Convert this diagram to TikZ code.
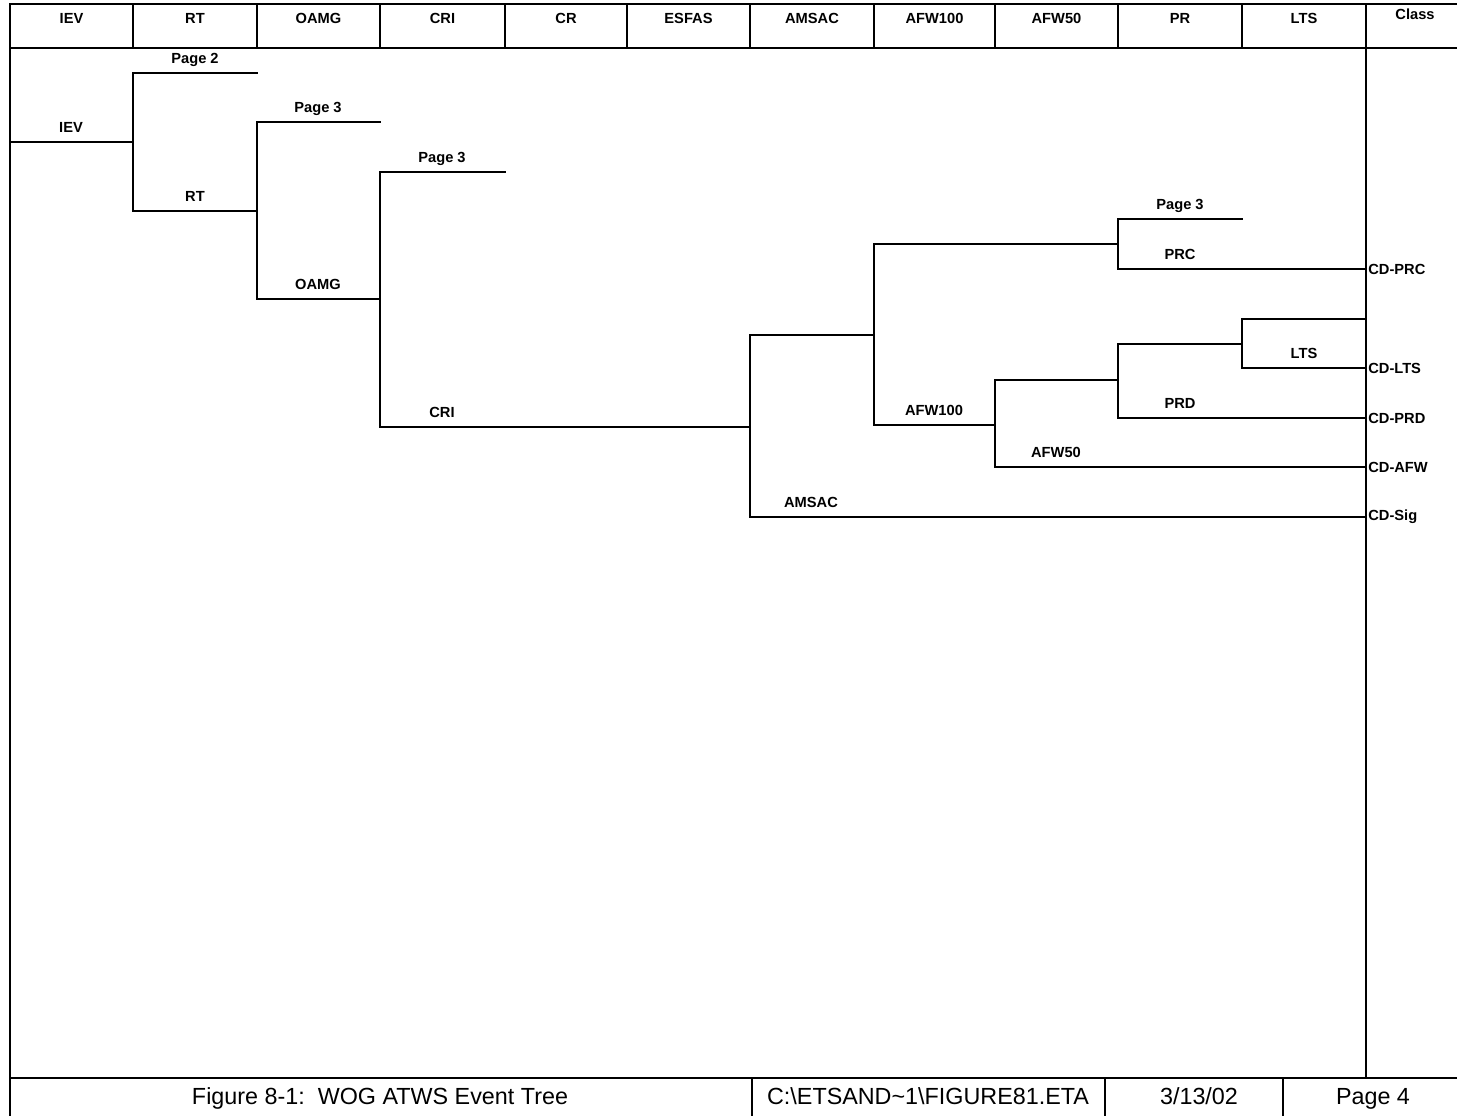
\documentclass[tikz,border=0pt]{standalone}
\usepackage{fontspec}
\setmainfont{Liberation Sans}

\begin{document}
\begin{tikzpicture}[x=0.75pt, y=-0.75pt, line width=1.5pt,
    tree/.style={line width=1.8pt, line cap=rect},
    brlbl/.style={anchor=base, yshift=7pt, inner sep=0pt, font=\fontsize{11}{13}\selectfont\bfseries},
    hdlbl/.style={anchor=base, inner sep=0pt, font=\fontsize{11}{13}\selectfont\bfseries},
    endlbl/.style={anchor=west, inner sep=1pt, font=\fontsize{11}{13}\selectfont\bfseries},
    ftlbl/.style={anchor=base, inner sep=0pt, font=\fontsize{17.5}{20}\selectfont}]
  \useasboundingbox (0,0) rectangle (1457,1116);
  % frame and header row
  \draw (10,1116) -- (10,4) -- (1457,4);
  \draw (10,48) -- (1457,48);
  \foreach \x in {133,257,380,505,627,750,874,995,1118,1242,1366}
    \draw (\x,4) -- (\x,48);
  \draw (1366,48) -- (1366,1078);
  \draw (10,1078) -- (1457,1078);
  \foreach \x in {752,1105,1283}
    \draw (\x,1078) -- (\x,1116);
  % header titles
  \foreach \name/\xl/\xr in {IEV/10/133, RT/133/257, OAMG/257/380, CRI/380/505,
      CR/505/627, ESFAS/627/750, AMSAC/750/874, AFW100/874/995,
      AFW50/995/1118, PR/1118/1242, LTS/1242/1366}
    \node[hdlbl] (h\name) at ({(\xl+\xr)/2},24) {\name};
  \node[hdlbl] (hClass) at (1415,20) {Class};
  % junctions and branch ends
  \coordinate (ievS) at (10,142);
  \coordinate (rtJ) at (133,142);
  \coordinate (pg2) at (257,73);
  \coordinate (oamgJ) at (257,211);
  \coordinate (pg3a) at (380,122);
  \coordinate (criJ) at (380,299);
  \coordinate (pg3b) at (505,172);
  \coordinate (amsacJ) at (750,427);
  \coordinate (afwJ) at (874,335);
  \coordinate (prcJ) at (1118,244);
  \coordinate (pg3c) at (1242,219);
  \coordinate (afw50J) at (995,425);
  \coordinate (prdJ) at (1118,380);
  \coordinate (ltsJ) at (1242,344);
  \coordinate (okEnd) at (1366,319);
  % end states
  \node[endlbl] (cdPRC) at (1366,269) {CD-PRC};
  \node[endlbl] (cdLTS) at (1366,368) {CD-LTS};
  \node[endlbl] (cdPRD) at (1366,418) {CD-PRD};
  \node[endlbl] (cdAFW) at (1366,467) {CD-AFW};
  \node[endlbl] (cdSig) at (1366,517) {CD-Sig};
  % event tree
  \draw[tree] (ievS) -- (rtJ);
  \draw[tree] (rtJ) |- (pg2);
  \draw[tree] (rtJ) |- (oamgJ);
  \draw[tree] (oamgJ) |- (pg3a);
  \draw[tree] (oamgJ) |- (criJ);
  \draw[tree] (criJ) |- (pg3b);
  \draw[tree] (criJ) |- (amsacJ);
  \draw[tree] (amsacJ) |- (afwJ);
  \draw[tree] (amsacJ) |- (cdSig.west);
  \draw[tree] (afwJ) |- (prcJ);
  \draw[tree] (afwJ) |- (afw50J);
  \draw[tree] (prcJ) |- (pg3c);
  \draw[tree] (prcJ) |- (cdPRC.west);
  \draw[tree] (afw50J) |- (prdJ);
  \draw[tree] (afw50J) |- (cdAFW.west);
  \draw[tree] (prdJ) |- (ltsJ);
  \draw[tree] (prdJ) |- (cdPRD.west);
  \draw[tree] (ltsJ) |- (okEnd);
  \draw[tree] (ltsJ) |- (cdLTS.west);
  % branch labels
  \node[brlbl] (lIEV) at (71,142) {IEV};
  \node[brlbl] (lPg2) at (195,73) {Page 2};
  \node[brlbl] (lRT) at (195,211) {RT};
  \node[brlbl] (lPg3a) at (318,122) {Page 3};
  \node[brlbl] (lOAMG) at (318,299) {OAMG};
  \node[brlbl] (lPg3b) at (442,172) {Page 3};
  \node[brlbl] (lCRI) at (442,427) {CRI};
  \node[brlbl] (lAMSAC) at (811,517) {AMSAC};
  \node[brlbl] (lAFW100) at (934,425) {AFW100};
  \node[brlbl] (lPg3c) at (1180,219) {Page 3};
  \node[brlbl] (lPRC) at (1180,269) {PRC};
  \node[brlbl] (lAFW50) at (1056,467) {AFW50};
  \node[brlbl] (lPRD) at (1180,418) {PRD};
  \node[brlbl] (lLTS) at (1304,368) {LTS};
  % footer
  \node[ftlbl] (fTitle) at (380,1104) {Figure 8-1:\ \ WOG ATWS Event Tree};
  \node[ftlbl] (fFile) at (928,1104) {C:\textbackslash ETSAND\textasciitilde1\textbackslash FIGURE81.ETA};
  \node[ftlbl] (fDate) at (1199,1104) {3/13/02};
  \node[ftlbl] (fPage) at (1373,1104) {Page 4};
\end{tikzpicture}
\end{document}
